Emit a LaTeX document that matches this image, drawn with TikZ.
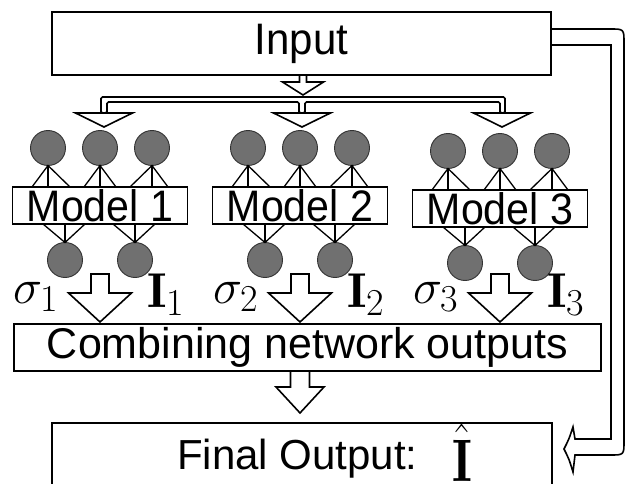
\RequirePackage{fix-cm}
\documentclass[tikz,border=0pt]{standalone}
\usepackage{fontspec}
\usepackage{graphicx}
\newfontfamily\sansfnt{Liberation Sans}
\usetikzlibrary{calc}
\definecolor{neuronfill}{RGB}{112,112,112}
\definecolor{neuronline}{RGB}{50,50,50}
\tikzset{
 boxstyle/.style={draw=black, line width=1.6pt, fill=white, inner sep=0pt, outer sep=0pt},
 neuron/.style={circle, draw=neuronline, line width=0.9pt, fill=neuronfill, minimum size=35pt, inner sep=0pt, outer sep=0pt},
 fanline/.style={draw=black, line width=1.3pt},
 hollow/.style={draw=black, line width=1.6pt, fill=white, line join=miter},
 mathlabel/.style={inner sep=0pt, anchor=base west, font=\fontsize{49}{49}\selectfont},
 sanslabel/.style={font=\sansfnt\fontsize{#1}{#1}\selectfont},
}
\newcommand\subnum[1]{\mbox{\fontsize{38}{38}\selectfont #1}}
\newcommand\hollowarrow[6]{\draw[hollow] (#1-#5,#2) -- (#1+#5,#2) -- (#1+#5,#3) -- (#1+#6,#3) -- (#1,#4) -- (#1-#6,#3) -- (#1-#5,#3) -- cycle;}
\newcommand\modelgroup[3]{%
 \node[neuron] (t#1a) at (#2-52,148+#3) {};
 \node[neuron] (t#1b) at (#2,148+#3) {};
 \node[neuron] (t#1c) at (#2+52,148+#3) {};
 \node[boxstyle, minimum width=175pt, minimum height=37pt, sanslabel=42] (m#1) at (#2,205.5+#3) {\scalebox{0.98}[1.05]{Model #1}};
 \node[neuron] (b#1a) at (#2-35,260+#3) {};
 \node[neuron] (b#1b) at (#2+35,260+#3) {};
 \foreach \n/\l/\r in {a/16/22, b/16/16, c/22/16} {
   \draw[fanline] ($(t#1\n.south |- m#1.north)+(-\l,0)$) -- (t#1\n.south) -- ($(t#1\n.south |- m#1.north)+(\r,0)$);
   \draw[fanline] (t#1\n.south) -- (t#1\n.south |- m#1.north);
 }
 \foreach \n in {a,b} {
   \draw[fanline] ($(b#1\n.north |- m#1.south)+(-22,0)$) -- (b#1\n.north) -- ($(b#1\n.north |- m#1.south)+(20,0)$);
   \draw[fanline] (b#1\n.north) -- (b#1\n.north |- m#1.south);
 }
 \node[mathlabel] (s#1) at (#2-87,303) {$\sigma_{\subnum{#1}}$};
 \node[mathlabel] (i#1) at (#2+47,307) {$\mathbf{I}_{\subnum{#1}}$};
 \hollowarrow{#2}{274}{293}{322}{9}{31.5}
}
\begin{document}
\begin{tikzpicture}[x=1pt,y=-1pt]
\useasboundingbox (0,0) rectangle (627,484);
\clip (0,0) rectangle (627,484);
\fill[white] (0,0) rectangle (627,484);

% input box
\node[boxstyle, minimum width=499pt, minimum height=63pt, sanslabel=42] (input) at (301.5,43.5) {\scalebox{1}[1.05]{Input}};

% feedback arrow
\draw[hollow, fill=none] (input.east |- 0,29) -- (610,29) .. controls (624,29) .. (624,43)
  -- (624,441) .. controls (624,455) .. (610,455) -- (575,455) -- (573,472)
  .. controls (569,459) .. (564,449) .. controls (569,439) .. (573,427) -- (575,439)
  -- (611,439) -- (611,45) -- (input.east |- 0,45);

% branch
\draw[hollow, rounded corners=1.5pt] (101,113) -- (101,97) -- (505,97) -- (505,113) -- (500,113) -- (500,102)
  -- (305,102) -- (305,113) -- (299,113) -- (299,102) -- (107,102) -- (107,113) -- cycle;
\hollowarrow{303}{75}{82}{95}{3.5}{20.5}
\foreach \c in {104,302,502}{
  \draw[hollow] (\c-28.5,113) -- (\c+28.5,113) -- (\c,127) -- cycle;
}

% model groups
\modelgroup{1}{100}{0}
\modelgroup{2}{300}{0}
\modelgroup{3}{500}{3}

% combining
\node[boxstyle, minimum width=587pt, minimum height=47pt, sanslabel=43] (comb) at (307.5,347.5) {Combining network outputs};
\hollowarrow{300}{371}{387}{413}{9.5}{24}

% final output
\node[boxstyle, minimum width=500pt, minimum height=87pt] (final) at (302,466.5) {};
\node[anchor=base west, inner sep=0pt, sanslabel=42] (ftext) at (177,469) {Final Output:};
\node[anchor=base west, inner sep=0pt, font=\fontsize{50}{50}\selectfont] (ihat) at (452,481) {\scalebox{1}[1.2]{$\hat{\mathbf{I}}$}};
\end{tikzpicture}
\end{document}
